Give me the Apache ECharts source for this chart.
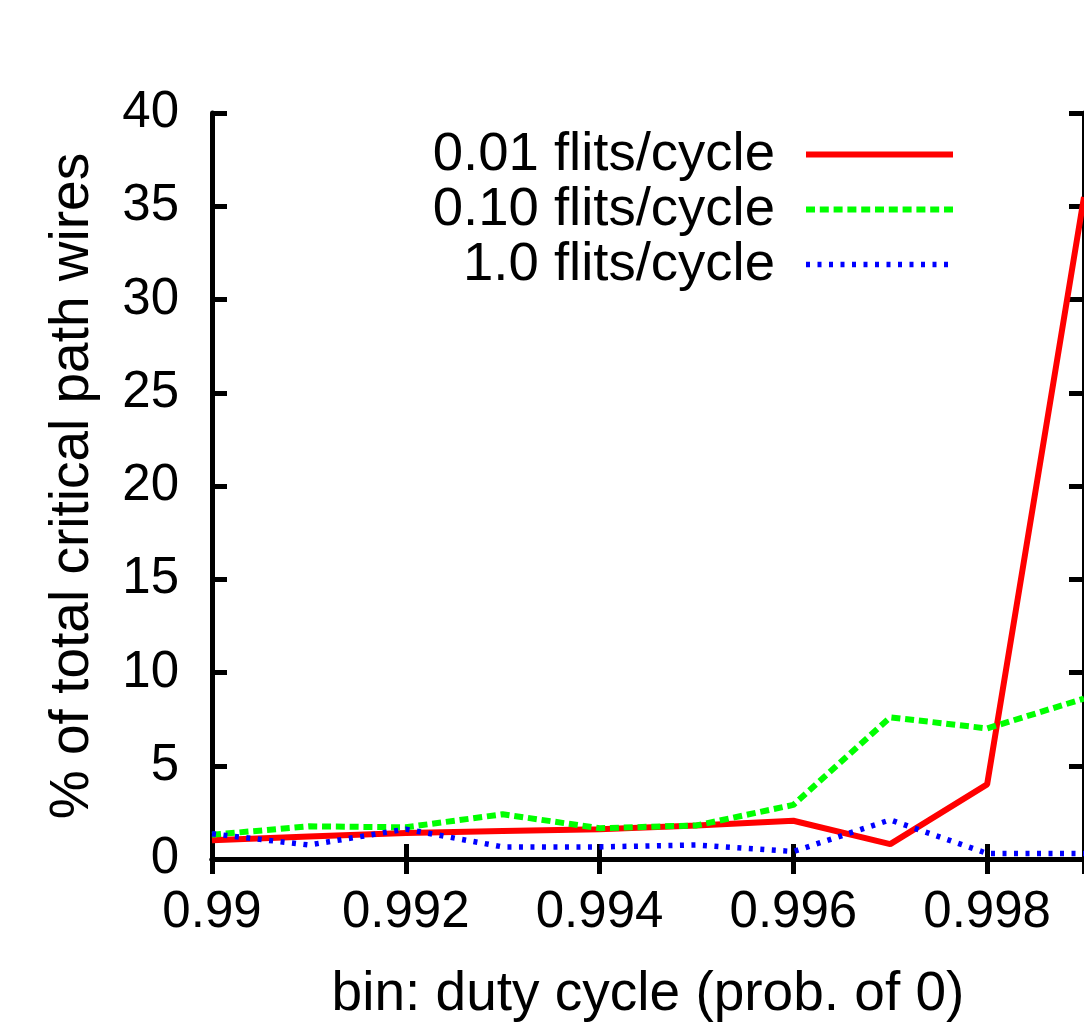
<!DOCTYPE html>
<html>
<head>
<meta charset="utf-8">
<script src="https://cdn.jsdelivr.net/npm/echarts@6/dist/echarts.min.js"></script>
<style>
html,body{margin:0;padding:0;background:#fff;}
#chart{width:1084px;height:1027px;}
</style>
</head>
<body>
<div id="chart"></div>
<script>
const xValues = [0.990, 0.991, 0.992, 0.993, 0.994, 0.995, 0.996, 0.997, 0.998, 0.999];
const seriesNames = ['0.01 flits/cycle', '0.10 flits/cycle', '1.0 flits/cycle'];
const low = [1.0, 1.2, 1.4, 1.5, 1.6, 1.8, 2.05, 0.8, 4.0, 35.5];
const mid = [1.3, 1.75, 1.7, 2.4, 1.65, 1.8, 2.9, 7.6, 7.0, 8.6];
const high = [1.35, 0.75, 1.6, 0.65, 0.65, 0.75, 0.4, 2.1, 0.3, 0.3];
const xTicks = { min: 0.99, max: 0.999, interval: 0.002 };
const yTicks = { min: 0, max: 40, interval: 5 };

const FONT = 'Liberation Sans';
const pairs = arr => xValues.map((x, i) => [x, arr[i]]);

const axisLineStyle = { lineStyle: { color: '#000', width: 5 } };
const tickStyle = { show: true, inside: true, length: 15, lineStyle: { color: '#000', width: 5 } };

const chart = echarts.init(document.getElementById('chart'), null, { renderer: 'canvas' });
chart.setOption({
  animation: false,
  backgroundColor: '#fff',
  grid: { left: 212, top: 113, width: 872, height: 749 },
  legend: {
    orient: 'vertical',
    right: 128,
    top: 127,
    padding: 0,
    align: 'right',
    itemWidth: 147,
    itemHeight: 20,
    itemGap: 0,
    selectedMode: false,
    itemStyle: { opacity: 0 },
    lineStyle: { width: 'inherit', type: 'inherit' },
    textStyle: { fontFamily: FONT, fontSize: 54.5, color: '#000', lineHeight: 55, padding: [0, 26, 0, 0] },
    data: seriesNames
  },
  xAxis: [
    {
      type: 'value', position: 'bottom', min: xTicks.min, max: xTicks.max, interval: xTicks.interval,
      axisLine: axisLineStyle, axisTick: tickStyle, splitLine: { show: false },
      axisLabel: { fontFamily: FONT, fontSize: 51, color: '#000', margin: 28, showMaxLabel: false,
        formatter: v => String(+v.toFixed(3)) },
      name: 'bin: duty cycle (prob. of 0)', nameLocation: 'middle', nameGap: 108,
      nameTextStyle: { fontFamily: FONT, fontSize: 55, color: '#000' }
    },
    {
      type: 'value', position: 'top', min: xTicks.min, max: xTicks.max, interval: xTicks.interval,
      axisLine: axisLineStyle, axisTick: tickStyle, splitLine: { show: false }, axisLabel: { show: false }
    }
  ],
  yAxis: [
    {
      type: 'value', position: 'left', min: yTicks.min, max: yTicks.max, interval: yTicks.interval,
      axisLine: { show: true, ...axisLineStyle }, axisTick: tickStyle, splitLine: { show: false },
      axisLabel: { fontFamily: FONT, fontSize: 51, color: '#000', margin: 33 },
      name: '% of total critical path wires', nameLocation: 'middle', nameGap: 112,
      nameTextStyle: { fontFamily: FONT, fontSize: 55, color: '#000' }
    },
    {
      type: 'value', position: 'right', min: yTicks.min, max: yTicks.max, interval: yTicks.interval,
      axisLine: { show: true, ...axisLineStyle }, axisTick: tickStyle, splitLine: { show: false }, axisLabel: { show: false }
    }
  ],
  series: [
    { name: seriesNames[0], type: 'line', symbol: 'none', data: pairs(low),
      lineStyle: { color: '#ff0000', width: 6, type: 'solid' }, itemStyle: { color: '#ff0000' } },
    { name: seriesNames[1], type: 'line', symbol: 'none', data: pairs(mid),
      lineStyle: { color: '#00ff00', width: 6, type: [9, 4.8] }, itemStyle: { color: '#00ff00' } },
    { name: seriesNames[2], type: 'line', symbol: 'none', data: pairs(high),
      lineStyle: { color: '#0000ff', width: 5.5, type: [4, 7.5] }, itemStyle: { color: '#0000ff' } }
  ]
});
</script>
</body>
</html>
